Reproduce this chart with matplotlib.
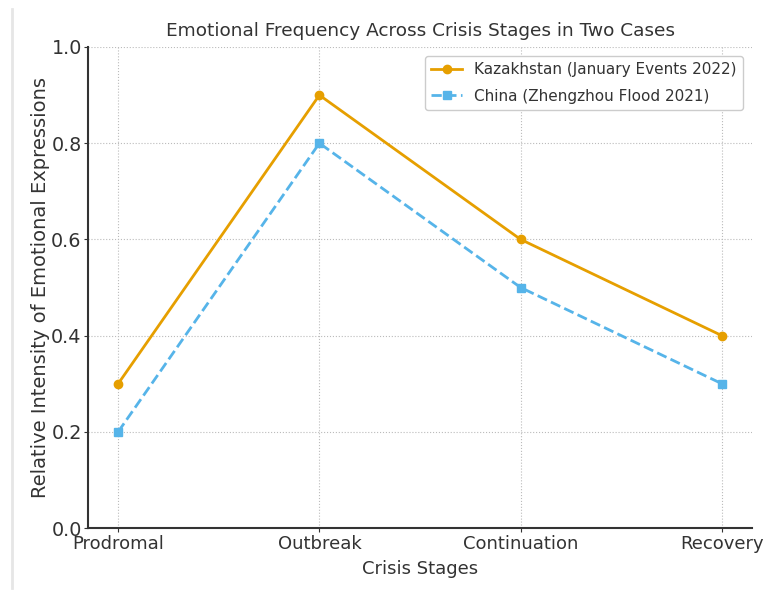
import matplotlib
matplotlib.use("Agg")
import matplotlib.pyplot as plt
from matplotlib.lines import Line2D

stages = ["Prodromal", "Outbreak", "Continuation", "Recovery"]
kazakhstan = [0.3, 0.9, 0.6, 0.4]
china = [0.2, 0.8, 0.5, 0.3]

text_color = "#333333"
plt.rcParams["text.color"] = text_color
plt.rcParams["axes.labelcolor"] = text_color
plt.rcParams["xtick.color"] = text_color
plt.rcParams["ytick.color"] = text_color

fig = plt.figure(figsize=(7.73, 5.94), dpi=100)
ax = fig.add_axes([88 / 773, 1 - 528 / 594, (752 - 88) / 773, (528 - 47) / 594])

x = range(len(stages))
ax.plot(x, kazakhstan, color="#E69F00", marker="o", markersize=6, linewidth=2,
        label="Kazakhstan (January Events 2022)")
ax.plot(x, china, color="#56B4E9", marker="s", markersize=6, linewidth=2,
        linestyle="--", label="China (Zhengzhou Flood 2021)")

ax.set_xticks(list(x))
ax.set_xticklabels(stages, fontsize=13)
ax.set_ylim(0, 1.0)
ax.set_yticks([0, 0.2, 0.4, 0.6, 0.8, 1.0])
ax.tick_params(axis="y", labelsize=13.8, pad=1.5, length=3)
ax.tick_params(axis="x", pad=2, length=3)
ax.set_xlabel("Crisis Stages", fontsize=13, labelpad=5)
ax.set_ylabel("Relative Intensity of Emotional Expressions", fontsize=14, labelpad=1)
ax.set_title("Emotional Frequency Across Crisis Stages in Two Cases", fontsize=13.3, pad=8)
ax.grid(True, linestyle=":", color="#bbbbbb", linewidth=0.8)
ax.spines["top"].set_visible(False)
ax.spines["right"].set_visible(False)
for s in ("left", "bottom"):
    ax.spines[s].set_linewidth(1.5)
    ax.spines[s].set_color("#333333")
ax.legend(loc="upper right", fontsize=11, framealpha=1, edgecolor="#cccccc",
          labelspacing=0.75, borderaxespad=0.6)

# faint border line at the left edge
fig.add_artist(Line2D([12 / 773, 12 / 773], [0.01, 0.985], color="#e6e6e6",
                      linewidth=2, transform=fig.transFigure))

fig.savefig("out.png", dpi=100)
